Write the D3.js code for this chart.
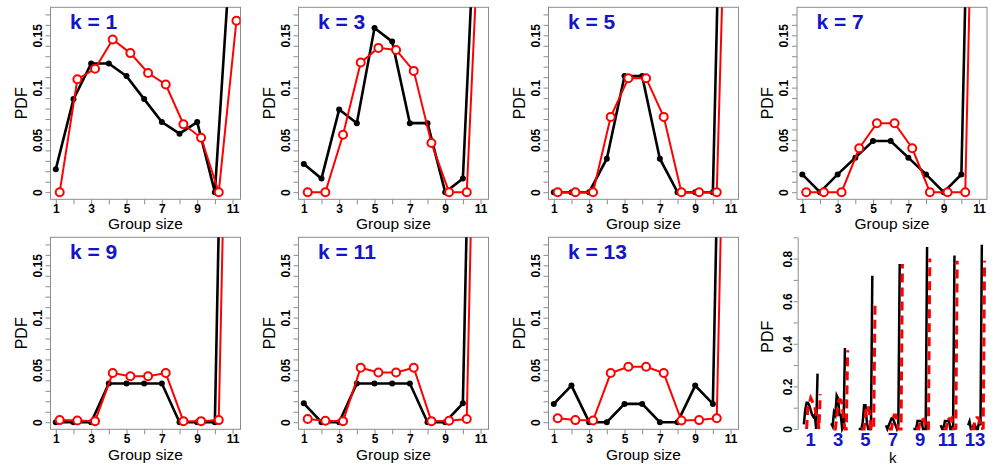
<!DOCTYPE html>
<html>
<head>
<meta charset="utf-8">
<script src="https://cdn.jsdelivr.net/npm/d3@7"></script>
<style>
  body { margin: 0; background: #fff; }
  text { font-family: "Liberation Sans", Arial, sans-serif; }
</style>
</head>
<body>
<div id="chart"></div>
<script>
// data
const groupSizes = [1, 2, 3, 4, 5, 6, 7, 8, 9, 10, 11];
const kValues = [1, 3, 5, 7, 9, 11, 13];

// black (filled dots) PDF per k, group sizes 1..11
const blackPdf = [
  [0.022, 0.089, 0.123, 0.123, 0.111, 0.089, 0.067, 0.056, 0.067, 0, 0.26],
  [0.027, 0.013, 0.079, 0.066, 0.157, 0.144, 0.066, 0.066, 0, 0.013, 0.38],
  [0, 0, 0, 0.032, 0.111, 0.111, 0.032, 0, 0, 0, 0.72],
  [0.017, 0, 0.017, 0.033, 0.049, 0.049, 0.033, 0.017, 0, 0.017, 0.775],
  [0, 0, 0, 0.037, 0.037, 0.037, 0.037, 0, 0, 0, 0.855],
  [0.018, 0, 0, 0.037, 0.037, 0.037, 0.037, 0, 0, 0.018, 0.815],
  [0.0175, 0.035, 0, 0, 0.0175, 0.0175, 0, 0, 0.035, 0.0175, 0.865]
];
// red (open circles) PDF per k
const redPdf = [
  [0, 0.108, 0.118, 0.146, 0.133, 0.114, 0.103, 0.065, 0.052, 0, 0.164],
  [0, 0, 0.055, 0.124, 0.138, 0.136, 0.116, 0.047, 0, 0, 0.37],
  [0, 0, 0, 0.072, 0.109, 0.109, 0.072, 0, 0, 0, 0.60],
  [0, 0, 0, 0.042, 0.066, 0.066, 0.042, 0, 0, 0, 0.775],
  [0.002, 0.0016, 0.001, 0.047, 0.044, 0.044, 0.047, 0.001, 0.001, 0.002, 0.80],
  [0.003, 0.0013, 0.001, 0.052, 0.0475, 0.0475, 0.052, 0.001, 0.0013, 0.003, 0.79],
  [0.0038, 0.002, 0.0016, 0.047, 0.053, 0.053, 0.047, 0.0016, 0.002, 0.0038, 0.79]
];

const sizeTickLabels = [1, 3, 5, 7, 9, 11];
const pdfTickLabels = [0, 0.05, 0.1, 0.15];
const summaryTickLabels = [0, 0.2, 0.4, 0.6, 0.8];

const blue = "#1414c8", grey = "#8c8c8c";

const svg = d3.select("#chart").append("svg")
  .attr("width", 1000)
  .attr("height", 465);

// panel layout (2 rows x 4 columns)
const panelLeft = [50.5, 298.5, 548.5, 797];
const panelTop = [7.3, 237.3];
const panelW = 190, panelH = 192;
const xLabelBase = [229, 459.5];

const x = d3.scaleLinear().domain([0.7, 11.45]).range([0, panelW]);
const y = d3.scaleLinear().domain([-0.0068, 0.1768]).range([panelH, 0]);
const redShift = 0.22;

const line = d3.line();

kValues.forEach((k, i) => {
  const row = Math.floor(i / 4), col = i % 4;
  const g = svg.append("g")
    .attr("transform", `translate(${panelLeft[col]},${panelTop[row]})`);

  g.append("clipPath").attr("id", "clip" + i)
    .append("rect").attr("width", panelW).attr("height", panelH);

  // x axis
  const xAxis = g.append("g")
    .attr("transform", `translate(0,${panelH})`)
    .call(d3.axisBottom(x).tickValues(groupSizes)
      .tickFormat(d => sizeTickLabels.includes(d) ? d : "").tickSize(5));
  xAxis.select(".domain").remove();
  xAxis.selectAll("line").attr("stroke", grey);
  xAxis.selectAll("text").attr("y", 13.5).attr("dy", 0)
    .attr("font-size", 12).attr("font-weight", "bold").attr("fill", "#000")
    .style("font-family", '"Liberation Sans", Arial, sans-serif');

  // y axis, minor ticks every 0.01
  const yAxis = g.append("g")
    .call(d3.axisLeft(y).tickValues(d3.range(0, 0.1701, 0.01).map(v => +v.toFixed(2)))
      .tickFormat(d => pdfTickLabels.includes(d) ? d : "").tickSize(5));
  yAxis.select(".domain").remove();
  yAxis.selectAll("line").attr("stroke", grey);
  yAxis.selectAll("text")
    .attr("transform", "rotate(-90)")
    .attr("x", 0).attr("y", -9).attr("dy", 0)
    .attr("text-anchor", "middle")
    .attr("font-size", 12).attr("font-weight", "bold").attr("fill", "#000")
    .style("font-family", '"Liberation Sans", Arial, sans-serif');

  // frame
  g.append("rect")
    .attr("width", panelW).attr("height", panelH)
    .attr("fill", "none").attr("stroke", grey).attr("stroke-width", 1);

  const plot = g.append("g").attr("clip-path", `url(#clip${i})`);

  const bPts = groupSizes.map((s, j) => [x(s), y(blackPdf[i][j])]);
  const rPts = groupSizes.map((s, j) => [x(s + redShift), y(redPdf[i][j])]);

  plot.append("path").attr("d", line(bPts))
    .attr("fill", "none").attr("stroke", "#000").attr("stroke-width", 2.6);
  plot.selectAll(".bdot").data(bPts).join("circle")
    .attr("cx", d => d[0]).attr("cy", d => d[1]).attr("r", 3)
    .attr("fill", "#000");

  plot.append("path").attr("d", line(rPts))
    .attr("fill", "none").attr("stroke", "#f00").attr("stroke-width", 2);
  plot.selectAll(".rdot").data(rPts).join("circle")
    .attr("cx", d => d[0]).attr("cy", d => d[1]).attr("r", 4)
    .attr("fill", "#fff").attr("stroke", "#f00").attr("stroke-width", 2);

  // labels
  g.append("text")
    .attr("x", 19.5).attr("y", 21.5)
    .attr("font-size", 21).attr("font-weight", "bold").attr("fill", blue)
    .text(`k = ${k}`);

  svg.append("text")
    .attr("x", panelLeft[col] + panelW / 2).attr("y", xLabelBase[row])
    .attr("text-anchor", "middle").attr("font-size", 15.5)
    .text("Group size");

  svg.append("text")
    .attr("transform", `translate(${panelLeft[col] - 24},${panelTop[row] + panelH / 2}) rotate(-90)`)
    .attr("text-anchor", "middle").attr("font-size", 16)
    .text("PDF");
});

// summary panel: all k side by side
const sx = d3.scaleLinear().domain([1, 13]).range([810.7, 975]);
const sy = d3.scaleLinear().domain([0, 0.9]).range([429, 237.3]);
const sizeStep = 0.1, redOffset = 0.2;

const sAxis = svg.append("g")
  .attr("transform", "translate(797.7,0)")
  .call(d3.axisLeft(sy).tickValues(d3.range(0, 0.901, 0.1).map(v => +v.toFixed(1)))
    .tickFormat(d => summaryTickLabels.includes(d) ? d : "").tickSize(4).tickSizeOuter(0));
sAxis.select(".domain").attr("stroke", grey);
sAxis.selectAll("line").attr("stroke", grey);
sAxis.selectAll("text")
  .attr("transform", "rotate(-90)")
  .attr("x", 0).attr("y", -6).attr("dy", 0)
  .attr("text-anchor", "middle")
  .attr("font-size", 12).attr("font-weight", "bold").attr("fill", "#000")
  .style("font-family", '"Liberation Sans", Arial, sans-serif');

kValues.forEach((k, i) => {
  const bPts = groupSizes.map((s, j) => [sx(k + (s - 6) * sizeStep), sy(blackPdf[i][j])]);
  const rPts = groupSizes.map((s, j) => [sx(k + redOffset + (s - 6) * sizeStep), sy(redPdf[i][j])]);
  svg.append("path").attr("d", line(bPts))
    .attr("fill", "none").attr("stroke", "#000").attr("stroke-width", 2.5);
  svg.append("path").attr("d", line(rPts))
    .attr("fill", "none").attr("stroke", "#f00").attr("stroke-width", 3)
    .attr("stroke-dasharray", "9,5");
});

svg.selectAll(".klab").data(kValues).join("text")
  .attr("x", d => sx(d)).attr("y", 445.5)
  .attr("text-anchor", "middle")
  .attr("font-size", 18.5).attr("font-weight", "bold").attr("fill", blue)
  .text(d => d);

svg.append("text")
  .attr("x", sx(7)).attr("y", 463)
  .attr("text-anchor", "middle").attr("font-size", 15)
  .text("k");

svg.append("text")
  .attr("transform", `translate(773.3,336.7) rotate(-90)`)
  .attr("text-anchor", "middle").attr("font-size", 16)
  .text("PDF");
</script>
</body>
</html>
